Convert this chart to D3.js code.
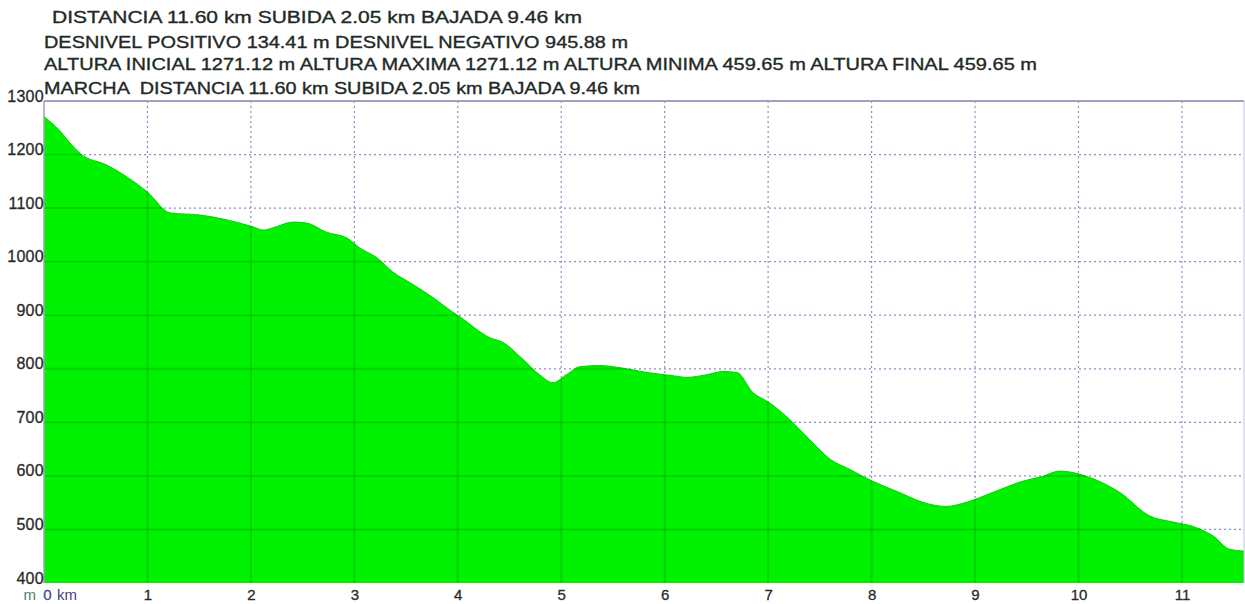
<!DOCTYPE html>
<html>
<head>
<meta charset="utf-8">
<script src="https://cdn.jsdelivr.net/npm/d3@7"></script>
<style>
  html, body { margin: 0; padding: 0; background: #fff; }
  svg { display: block; font-family: "Liberation Sans", Arial, sans-serif; }
</style>
</head>
<body>
<svg id="chart" width="1245" height="604"></svg>
<script>
// ---- data ----
const titleLines = [
  "DISTANCIA 11.60 km SUBIDA 2.05 km BAJADA 9.46 km",
  "DESNIVEL POSITIVO 134.41 m DESNIVEL NEGATIVO 945.88 m",
  "ALTURA INICIAL 1271.12 m ALTURA MAXIMA 1271.12 m ALTURA MINIMA 459.65 m ALTURA FINAL 459.65 m",
  "MARCHA  DISTANCIA 11.60 km SUBIDA 2.05 km BAJADA 9.46 km"
];
const distanceKm = [0, 0.15, 0.25, 0.35, 0.61, 1.0, 1.22, 1.51, 1.77, 2.02, 2.12, 2.21, 2.41, 2.54, 2.73, 2.93, 3.05, 3.22, 3.37, 3.57, 3.76, 3.95, 4.02, 4.31, 4.44, 4.60, 4.79, 4.92, 5.05, 5.18, 5.37, 5.57, 5.83, 6.08, 6.21, 6.41, 6.56, 6.70, 6.85, 7.01, 7.21, 7.40, 7.60, 7.79, 8.01, 8.27, 8.49, 8.72, 8.92, 9.17, 9.46, 9.65, 9.82, 10.08, 10.40, 10.69, 10.91, 11.10, 11.30, 11.46, 11.60];
const altitudeM = [1271, 1245, 1222, 1202, 1180, 1130, 1091, 1087, 1078, 1065, 1059, 1063, 1074, 1072, 1055, 1044, 1026, 1007, 981, 957, 933, 906, 897, 858, 849, 823, 789, 774, 789, 804, 806, 802, 793, 787, 784, 789, 795, 793, 756, 737, 705, 668, 631, 612, 590, 569, 551, 543, 551, 569, 590, 599, 609, 599, 569, 525, 514, 506, 488, 463, 459.65];
const xTicks = [0, 1, 2, 3, 4, 5, 6, 7, 8, 9, 10, 11];
const yTicks = [400, 500, 600, 700, 800, 900, 1000, 1100, 1200, 1300];

// ---- layout ----
const svg = d3.select("#chart");
const pLeft = 44, pRight = 1244, pTop = 101, pBottom = 583;
const x = d3.scaleLinear().domain([0, 11.6]).range([pLeft, pRight]);
const y = d3.scaleLinear().domain([400, 1300]).range([pBottom, pTop]);
const pts = distanceKm.map((d, i) => [d, altitudeM[i]]);
const ink = "#1f2a26";

// title lines
const titleX = [52, 44, 44, 44];
const titleW = [530, 584, 993, 596];
const titleY = [23, 48, 70, 94];
svg.append("g").selectAll("text").data(titleLines).join("text")
  .attr("x", (d, i) => titleX[i])
  .attr("y", (d, i) => titleY[i])
  .attr("textLength", (d, i) => titleW[i])
  .attr("lengthAdjust", "spacingAndGlyphs")
  .attr("font-size", 17)
  .attr("fill", ink)
  .attr("stroke", ink).attr("stroke-width", 0.35)
  .style("white-space", "pre")
  .text(d => d);

// grid (behind)
const gridColor = "#8c8cc8";
const grid = svg.append("g");
grid.selectAll("line.v").data(xTicks.slice(1)).join("line")
  .attr("x1", d => x(d)).attr("x2", d => x(d))
  .attr("y1", pTop).attr("y2", pBottom)
  .attr("stroke", gridColor).attr("stroke-width", 1.2)
  .attr("stroke-dasharray", "2,3");
grid.selectAll("line.h").data(yTicks.slice(1, -1)).join("line")
  .attr("x1", pLeft).attr("x2", pRight)
  .attr("y1", d => y(d)).attr("y2", d => y(d))
  .attr("stroke", gridColor).attr("stroke-width", 1.2)
  .attr("stroke-dasharray", "2,3");

// area
const area = d3.area()
  .x(d => x(d[0]))
  .y0(y(400))
  .y1(d => y(d[1]))
  .curve(d3.curveMonotoneX);
svg.append("path").datum(pts)
  .attr("d", area)
  .attr("fill", "#00f200");
svg.append("path").datum(pts)
  .attr("d", d3.line().x(d => x(d[0])).y(d => y(d[1])).curve(d3.curveMonotoneX))
  .attr("fill", "none").attr("stroke", "#17c417").attr("stroke-width", 1);

// grid over green (darker green lines), clipped to the area
svg.append("clipPath").attr("id", "areaClip").append("path").datum(pts).attr("d", area);
const gOver = svg.append("g").attr("clip-path", "url(#areaClip)");
gOver.selectAll("line.v").data(xTicks.slice(1)).join("line")
  .attr("x1", d => x(d)).attr("x2", d => x(d))
  .attr("y1", pTop).attr("y2", pBottom)
  .attr("stroke", "#008a00").attr("stroke-opacity", 0.3).attr("stroke-width", 2);
gOver.selectAll("line.h").data(yTicks.slice(1, -1)).join("line")
  .attr("x1", pLeft).attr("x2", pRight)
  .attr("y1", d => y(d)).attr("y2", d => y(d))
  .attr("stroke", "#008a00").attr("stroke-opacity", 0.3).attr("stroke-width", 2);

// frame
svg.append("line").attr("x1", pLeft).attr("x2", pRight).attr("y1", pTop).attr("y2", pTop)
  .attr("stroke", "#a0a0c0").attr("stroke-width", 2);
svg.append("line").attr("x1", pLeft).attr("x2", pLeft).attr("y1", pTop).attr("y2", pBottom)
  .attr("stroke", "#a0a0b0").attr("stroke-width", 1.5);
svg.append("line").attr("x1", pRight).attr("x2", pRight).attr("y1", pTop).attr("y2", pBottom)
  .attr("stroke", "#c0c0dd").attr("stroke-width", 1);

// y axis
const yAxis = d3.axisLeft(y).tickValues(yTicks).tickSize(0).tickPadding(0).tickFormat(d3.format("d"));
const gy = svg.append("g").attr("transform", `translate(${pLeft},0)`).call(yAxis);
gy.select(".domain").remove();
gy.selectAll("text")
  .attr("dy", 0)
  .attr("font-size", 16)
  .attr("font-family", "Liberation Sans, Arial, sans-serif")
  .attr("fill", "#2a2a2a")
  .attr("stroke", "#2a2a2a").attr("stroke-width", 0.3)
  .attr("letter-spacing", 0.3);

// x axis
const xAxis = d3.axisBottom(x).tickValues(xTicks).tickSize(0).tickPadding(0).tickFormat(d3.format("d"));
const gx = svg.append("g").attr("transform", `translate(0,${pBottom})`).call(xAxis);
gx.select(".domain").remove();
gx.selectAll("text")
  .attr("y", 17)
  .attr("dy", 0)
  .attr("font-size", 15)
  .attr("font-family", "Liberation Sans, Arial, sans-serif")
  .attr("fill", "#2a2a2a")
  .attr("stroke", "#2a2a2a").attr("stroke-width", 0.3);
gx.selectAll(".tick").filter(d => d === 0).select("text")
  .attr("fill", "#3a4aa0").attr("stroke", "#3a4aa0").attr("x", 3);
svg.append("text").attr("x", x(0) - 8).attr("y", pBottom + 17).attr("text-anchor", "end")
  .attr("font-size", 15).attr("fill", "#5a7a6a").text("m");
svg.append("text").attr("x", x(0) + 13).attr("y", pBottom + 17)
  .attr("font-size", 15).attr("fill", "#4a3a8a").text("km");
</script>
</body>
</html>
